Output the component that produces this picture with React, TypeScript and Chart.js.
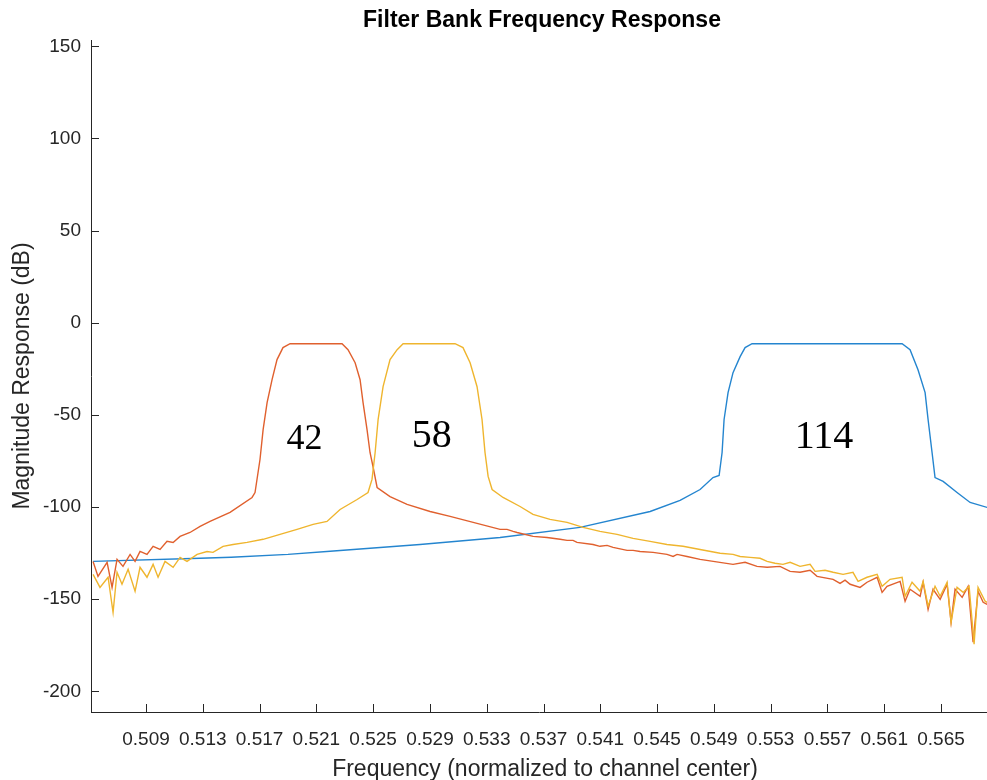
import React, { useEffect, useRef } from "react";
import { Chart, registerables } from "chart.js";

Chart.register(...registerables);

const TITLE = "Filter Bank Frequency Response";
const X_TITLE = "Frequency (normalized to channel center)";
const Y_TITLE = "Magnitude Response (dB)";

const X_TICKS = [0.509, 0.513, 0.517, 0.521, 0.525, 0.529, 0.533, 0.537, 0.541, 0.545, 0.549, 0.553, 0.557, 0.561, 0.565];
const Y_TICKS = [-200, -150, -100, -50, 0, 50, 100, 150];
const X_MIN = 0.505126;
const X_MAX = 0.56824;
const Y_MIN = -211.2;
const Y_MAX = 153.4;

// Channel 114 (blue)
const CH114_FREQ = [0.50527, 0.51281, 0.51500, 0.51900, 0.52197, 0.52830, 0.53394, 0.53957, 0.54451, 0.54662, 0.54803, 0.54894, 0.54937, 0.54958, 0.54972, 0.55000, 0.55035, 0.55085, 0.55120, 0.55169, 0.56226, 0.56282, 0.56338, 0.56388, 0.56409, 0.56437, 0.56458, 0.56515, 0.56613, 0.56705, 0.56825];
const CH114_DB = [-129.5, -127.8, -127.2, -125.7, -124.0, -120.3, -116.5, -111.0, -102.4, -96.4, -90.5, -84.0, -82.9, -70.4, -52.5, -37.9, -27.1, -18.4, -13.5, -11.4, -11.4, -14.6, -25.5, -37.9, -52.5, -70.4, -84.0, -86.1, -92.1, -97.5, -100.2];

// Channel 42 (orange)
const CH42_FREQ = [0.50527, 0.50562, 0.50626, 0.50661, 0.50696, 0.50738, 0.50788, 0.50823, 0.50858, 0.50907, 0.50950, 0.50999, 0.51048, 0.51091, 0.51140, 0.51210, 0.51281, 0.51351, 0.51492, 0.51647, 0.51668, 0.51703, 0.51725, 0.51753, 0.51788, 0.51823, 0.51865, 0.51915, 0.52281, 0.52323, 0.52373, 0.52408, 0.52429, 0.52457, 0.52478, 0.52499, 0.52528, 0.52619, 0.52739, 0.52901, 0.53042, 0.53394, 0.53443, 0.53486, 0.53514, 0.53627, 0.53725, 0.53817, 0.53866, 0.53908, 0.53936, 0.54049, 0.54098, 0.54148, 0.54190, 0.54289, 0.54331, 0.54380, 0.54472, 0.54570, 0.54613, 0.54641, 0.54711, 0.54803, 0.55035, 0.55120, 0.55204, 0.55275, 0.55366, 0.55437, 0.55507, 0.55578, 0.55627, 0.55740, 0.55789, 0.55824, 0.55860, 0.55930, 0.55979, 0.56050, 0.56085, 0.56120, 0.56212, 0.56247, 0.56282, 0.56353, 0.56374, 0.56409, 0.56444, 0.56494, 0.56543, 0.56571, 0.56599, 0.56649, 0.56691, 0.56726, 0.56761, 0.56797, 0.56825];
const CH42_DB = [-129.5, -137.6, -130.0, -143.6, -128.4, -132.2, -125.7, -129.5, -124.1, -125.7, -121.3, -123.0, -118.6, -119.2, -115.9, -113.8, -110.5, -107.8, -102.9, -94.8, -92.1, -74.2, -58.0, -43.3, -30.9, -20.0, -13.5, -11.4, -11.4, -14.6, -21.7, -30.9, -43.3, -58.0, -70.4, -78.0, -89.4, -94.3, -98.6, -102.4, -105.1, -112.1, -112.1, -113.2, -113.8, -115.9, -116.5, -117.5, -118.1, -118.1, -119.2, -120.3, -121.3, -120.8, -121.9, -123.5, -123.5, -124.1, -124.6, -125.7, -126.8, -125.7, -126.8, -128.4, -131.1, -130.0, -132.2, -132.7, -132.2, -134.9, -135.4, -134.3, -137.6, -139.2, -141.4, -139.7, -141.9, -143.6, -140.8, -138.1, -146.3, -143.0, -140.3, -151.1, -144.6, -148.4, -140.8, -155.5, -144.6, -150.1, -141.9, -162.5, -144.6, -149.0, -143.0, -173.3, -145.7, -151.7, -152.8];

// Channel 58 (yellow)
const CH58_FREQ = [0.50527, 0.50576, 0.50633, 0.50668, 0.50696, 0.50731, 0.50774, 0.50823, 0.50858, 0.50907, 0.50950, 0.50985, 0.51034, 0.51091, 0.51140, 0.51189, 0.51260, 0.51330, 0.51372, 0.51443, 0.51513, 0.51612, 0.51725, 0.51844, 0.51964, 0.52077, 0.52175, 0.52267, 0.52387, 0.52464, 0.52492, 0.52514, 0.52535, 0.52570, 0.52619, 0.52669, 0.52711, 0.53077, 0.53133, 0.53183, 0.53232, 0.53267, 0.53288, 0.53310, 0.53338, 0.53415, 0.53535, 0.53626, 0.53746, 0.53866, 0.53979, 0.54098, 0.54218, 0.54331, 0.54451, 0.54570, 0.54683, 0.54803, 0.54944, 0.55035, 0.55085, 0.55155, 0.55226, 0.55275, 0.55331, 0.55387, 0.55437, 0.55507, 0.55578, 0.55613, 0.55683, 0.55740, 0.55810, 0.55880, 0.55916, 0.55979, 0.56050, 0.56085, 0.56141, 0.56226, 0.56247, 0.56296, 0.56353, 0.56374, 0.56409, 0.56458, 0.56494, 0.56543, 0.56571, 0.56613, 0.56656, 0.56698, 0.56733, 0.56761, 0.56811, 0.56825];
const CH58_DB = [-136.5, -143.6, -138.1, -157.1, -135.4, -141.9, -133.8, -145.7, -132.7, -138.1, -131.1, -138.1, -129.5, -132.7, -127.3, -129.5, -125.7, -124.1, -124.6, -121.3, -120.3, -119.2, -117.5, -114.8, -112.1, -109.4, -107.8, -101.3, -95.9, -92.1, -85.0, -70.4, -52.5, -34.7, -20.0, -14.6, -11.4, -11.4, -13.5, -21.7, -34.7, -52.5, -70.4, -83.4, -90.5, -94.8, -99.7, -104.0, -106.7, -108.3, -111.0, -113.2, -114.8, -117.0, -118.6, -120.3, -121.3, -123.0, -125.1, -125.7, -126.8, -127.3, -127.8, -129.5, -130.5, -131.1, -130.0, -132.2, -131.1, -134.9, -134.3, -135.4, -136.5, -135.4, -140.3, -138.1, -136.5, -143.0, -139.2, -138.1, -148.4, -140.8, -145.7, -140.3, -153.8, -143.0, -148.4, -140.8, -162.5, -143.6, -146.3, -143.0, -174.4, -143.6, -151.1, -151.7];

const LABEL_TEXTS = ["42", "58", "114"];
const LABEL_FREQ = [0.52017, 0.52913, 0.55676];
const LABEL_DB = [-68.3, -67.4, -67.7];
const LABEL_SIZES = [36, 40, 40];

const AXIS_COLOR = "#262626";
const SANS = "'Liberation Sans', Arial, Helvetica, sans-serif";

function pts(xs: number[], ys: number[]) {
  return xs.map((x, i) => ({ x, y: ys[i] }));
}

const overlayPlugin = {
  id: "overlay",
  afterDraw(chart: any) {
    const { ctx, chartArea, scales } = chart;
    const xs = scales.x;
    const ys = scales.y;
    ctx.save();
    // inward tick marks
    ctx.strokeStyle = AXIS_COLOR;
    ctx.lineWidth = 1;
    ctx.beginPath();
    X_TICKS.forEach((v) => {
      const px = Math.round(xs.getPixelForValue(v)) + 0.5;
      ctx.moveTo(px, chartArea.bottom);
      ctx.lineTo(px, chartArea.bottom - 8);
    });
    Y_TICKS.forEach((v) => {
      const py = Math.round(ys.getPixelForValue(v)) + 0.5;
      ctx.moveTo(chartArea.left, py);
      ctx.lineTo(chartArea.left + 8, py);
    });
    ctx.stroke();

    // title
    ctx.fillStyle = "#000";
    ctx.textAlign = "center";
    ctx.textBaseline = "alphabetic";
    ctx.font = `bold 23px ${SANS}`;
    const cx = (chartArea.left + chartArea.right) / 2 + 3;
    ctx.fillText(TITLE, cx, 27);

    // x title
    ctx.fillStyle = AXIS_COLOR;
    ctx.font = `23px ${SANS}`;
    ctx.fillText(X_TITLE, cx + 3, 776);

    // y title
    ctx.save();
    ctx.translate(29, (chartArea.top + chartArea.bottom) / 2);
    ctx.rotate(-Math.PI / 2);
    ctx.fillText(Y_TITLE, 0, 0);
    ctx.restore();

    // annotations
    ctx.fillStyle = "#000";
    LABEL_TEXTS.forEach((t, i) => {
      ctx.font = `${LABEL_SIZES[i]}px 'Liberation Serif', 'Times New Roman', serif`;
      ctx.fillText(t, xs.getPixelForValue(LABEL_FREQ[i]), ys.getPixelForValue(LABEL_DB[i]));
    });
    ctx.restore();
  },
};

export default function App() {
  const ref = useRef<HTMLCanvasElement | null>(null);
  useEffect(() => {
    if (!ref.current) return;
    const tickFont = { family: SANS, size: 19 };
    const chart = new Chart(ref.current, {
      type: "line",
      data: {
        datasets: [
          { label: "114", data: pts(CH114_FREQ, CH114_DB), borderColor: "#2485cf", borderWidth: 1.4, pointRadius: 0, tension: 0, order: 3 },
          { label: "42", data: pts(CH42_FREQ, CH42_DB), borderColor: "#e0602e", borderWidth: 1.4, pointRadius: 0, tension: 0, order: 2 },
          { label: "58", data: pts(CH58_FREQ, CH58_DB), borderColor: "#efb52e", borderWidth: 1.4, pointRadius: 0, tension: 0, order: 1 },
        ],
      },
      options: {
        animation: false,
        responsive: false,
        events: [],
        layout: { padding: { top: 40, left: 0, right: 0, bottom: 0 } },
        plugins: { legend: { display: false }, title: { display: false }, tooltip: { enabled: false } },
        scales: {
          x: {
            type: "linear",
            min: X_MIN,
            max: X_MAX,
            grid: { display: false, drawTicks: false },
            border: { display: true, color: AXIS_COLOR, width: 1 },
            ticks: {
              font: tickFont,
              color: AXIS_COLOR,
              padding: 16,
              autoSkip: false,
              maxRotation: 0,
              minRotation: 0,
              callback: (v: any) => Number(v).toFixed(3),
            },
            afterBuildTicks: (s: any) => {
              s.ticks = X_TICKS.map((v) => ({ value: v }));
            },
            afterFit: (s: any) => {
              s.height = 68;
            },
          },
          y: {
            type: "linear",
            min: Y_MIN,
            max: Y_MAX,
            grid: { display: false, drawTicks: false },
            border: { display: true, color: AXIS_COLOR, width: 1 },
            ticks: {
              font: tickFont,
              color: AXIS_COLOR,
              padding: 10,
              autoSkip: false,
              callback: (v: any) => String(v),
            },
            afterBuildTicks: (s: any) => {
              s.ticks = Y_TICKS.map((v) => ({ value: v }));
            },
            afterFit: (s: any) => {
              s.width = 91;
            },
          },
        },
      },
      plugins: [overlayPlugin],
    } as any);
    return () => chart.destroy();
  }, []);
  return (
    <div style={{ position: "fixed", left: 0, top: 0, width: 987, height: 780, background: "#fff" }}>
      <canvas ref={ref} width={987} height={780} style={{ display: "block" }} />
    </div>
  );
}
